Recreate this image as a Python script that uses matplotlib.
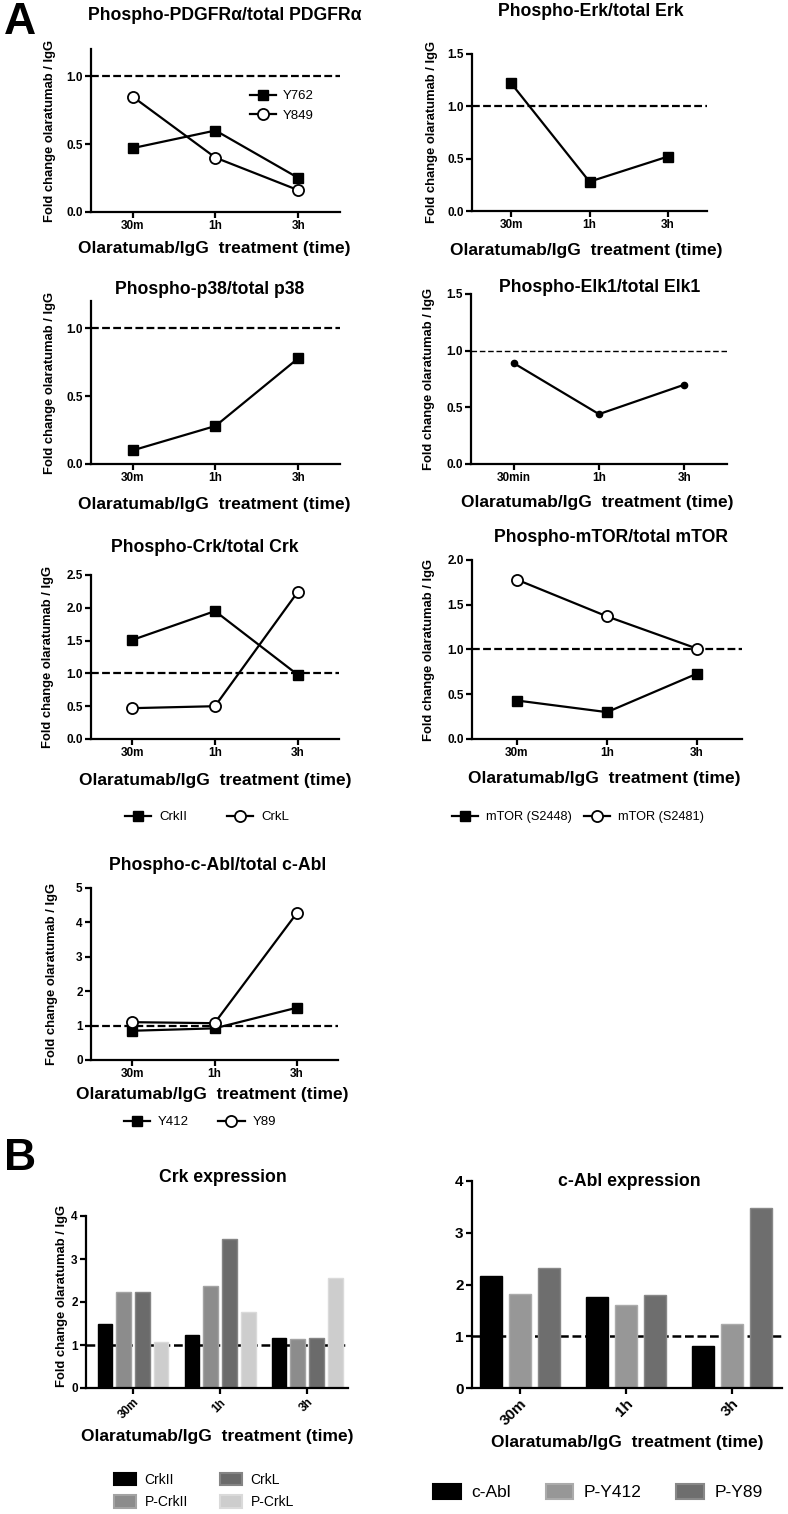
import matplotlib
matplotlib.use('Agg')
import matplotlib.pyplot as plt
from matplotlib.lines import Line2D
from matplotlib.patches import Patch
import numpy as np

plt.rcParams['font.family'] = ['Liberation Sans', 'DejaVu Sans']

# ---- data ----
times = ['30m', '1h', '3h']
times_elk = ['30min', '1h', '3h']

pdgfr_y762 = [0.47, 0.60, 0.25]
pdgfr_y849 = [0.85, 0.40, 0.16]
erk = [1.22, 0.28, 0.52]
p38 = [0.10, 0.28, 0.78]
elk1 = [0.89, 0.44, 0.70]
crk_crkii = [1.51, 1.95, 0.98]
crk_crkl = [0.47, 0.50, 2.24]
mtor_s2448 = [0.43, 0.30, 0.73]
mtor_s2481 = [1.78, 1.37, 1.01]
abl_y412 = [0.85, 0.92, 1.52]
abl_y89 = [1.10, 1.07, 4.27]

crk_expr_names = ['CrkII', 'P-CrkII', 'CrkL', 'P-CrkL']
crk_expr = [[1.49, 1.23, 1.17],
            [2.24, 2.37, 1.14],
            [2.23, 3.47, 1.16],
            [1.07, 1.76, 2.55]]
crk_colors = ['#000000', '#8c8c8c', '#6b6b6b', '#cdcdcd']
crk_edges = ['#000000', '#a3a3a3', '#858585', '#dadada']

abl_expr_names = ['c-Abl', 'P-Y412', 'P-Y89']
abl_expr = [[2.16, 1.75, 0.81],
            [1.82, 1.61, 1.24],
            [2.32, 1.80, 3.47]]
abl_colors = ['#000000', '#979797', '#6e6e6e']
abl_edges = ['#000000', '#ababab', '#888888']

W, H = 788, 1514
fig = plt.figure(figsize=(W / 100, H / 100), dpi=100)

XLAB = 'Olaratumab/IgG  treatment (time)'
YLAB = 'Fold change olaratumab / IgG'


def axpx(l, t, r, b):
    return fig.add_axes([l / W, 1 - b / H, (r - l) / W, (b - t) / H])


def ftext(x, y, s, **kw):
    kw.setdefault('ha', 'center')
    kw.setdefault('va', 'center')
    return fig.text(x / W, 1 - y / H, s, **kw)


def style(ax, ymax, yticks, yfmt, labels, xl=(-0.5, 2.5), tsize=8.5):
    for s in ['top', 'right']:
        ax.spines[s].set_visible(False)
    for s in ['left', 'bottom']:
        ax.spines[s].set_linewidth(1.6)
    ax.set_ylim(0, ymax)
    ax.set_xlim(*xl)
    ax.set_yticks(yticks)
    ax.set_yticklabels([yfmt.format(v) for v in yticks])
    ax.set_xticks(range(len(labels)))
    ax.set_xticklabels(labels)
    ax.tick_params(width=1.6, length=4, labelsize=tsize, pad=2)
    for lab in ax.get_xticklabels() + ax.get_yticklabels():
        lab.set_fontweight('bold')


def ref_line(ax, lw=1.6, dash=(3.5, 1.5)):
    ax.axhline(1.0, color='black', lw=lw, ls=(0, dash), zorder=1)


def line_panel(ax, series, markers):
    for vals, m in zip(series, markers):
        if m == 's':
            ax.plot(range(3), vals, color='black', lw=1.6, marker='s', ms=7,
                    mfc='black', mec='black', zorder=3, clip_on=False)
        else:
            ax.plot(range(3), vals, color='black', lw=1.6, marker='o', ms=8,
                    mfc='white', mec='black', mew=1.3, zorder=3, clip_on=False)


def handles(names, markers):
    hs = []
    for n, m in zip(names, markers):
        if m == 's':
            hs.append(Line2D([], [], color='black', lw=1.6, marker='s', ms=7,
                             mfc='black', label=n))
        else:
            hs.append(Line2D([], [], color='black', lw=1.6, marker='o', ms=8,
                             mfc='white', mew=1.3, label=n))
    return hs


TFS = 12.7
LFS = 12.5
YFS = 9.4

# panel letters
ftext(20, 23, 'A', fontsize=32, fontweight='bold')
ftext(20, 1158, 'B', fontsize=32, fontweight='bold')

# ---- PDGFRa ----
ax = axpx(91, 49, 340, 212)
ref_line(ax)
line_panel(ax, [pdgfr_y762, pdgfr_y849], ['s', 'o'])
style(ax, 1.2, [0.0, 0.5, 1.0], '{:.1f}', times)
ax.legend(handles=handles(['Y762', 'Y849'], ['s', 'o']), loc='upper left',
          bbox_to_anchor=((250 - 91) / 249, (212 - 90) / 163), frameon=False,
          fontsize=9.5, handlelength=2.0, handletextpad=0.5, labelspacing=0.55,
          borderaxespad=0, borderpad=0)
ftext(225, 15, 'Phospho-PDGFR\u03b1/total PDGFR\u03b1', fontsize=TFS, fontweight='bold')
ftext(214, 249, XLAB, fontsize=LFS, fontweight='bold')
ftext(50, 131, YLAB, fontsize=YFS, fontweight='bold', rotation=90)

# ---- Erk ----
ax = axpx(472, 54, 707, 211)
ref_line(ax)
line_panel(ax, [erk], ['s'])
style(ax, 1.5, [0.0, 0.5, 1.0, 1.5], '{:.1f}', times)
ftext(591, 12, 'Phospho-Erk/total Erk', fontsize=TFS, fontweight='bold')
ftext(586, 250, XLAB, fontsize=LFS, fontweight='bold')
ftext(432, 132, YLAB, fontsize=YFS, fontweight='bold', rotation=90)

# ---- p38 ----
ax = axpx(91, 301, 340, 464)
ref_line(ax)
line_panel(ax, [p38], ['s'])
style(ax, 1.2, [0.0, 0.5, 1.0], '{:.1f}', times)
ftext(210, 290, 'Phospho-p38/total p38', fontsize=TFS, fontweight='bold')
ftext(214, 505, XLAB, fontsize=LFS, fontweight='bold')
ftext(50, 383, YLAB, fontsize=YFS, fontweight='bold', rotation=90)

# ---- Elk1 ----
ax = axpx(471, 294, 727, 464)
ref_line(ax, lw=1.0, dash=(4, 2))
ax.plot(range(3), elk1, color='black', lw=1.6, marker='o', ms=4.5,
        mfc='black', mec='black', zorder=3)
style(ax, 1.5, [0.0, 0.5, 1.0, 1.5], '{:.1f}', times_elk)
ftext(600, 287, 'Phospho-Elk1/total Elk1', fontsize=TFS, fontweight='bold')
ftext(597, 503, XLAB, fontsize=LFS, fontweight='bold')
ftext(429, 379, YLAB, fontsize=YFS, fontweight='bold', rotation=90)

# ---- Crk ----
ax = axpx(91, 575, 339, 739)
ref_line(ax)
line_panel(ax, [crk_crkii, crk_crkl], ['s', 'o'])
style(ax, 2.5, [0.0, 0.5, 1.0, 1.5, 2.0, 2.5], '{:.1f}', times)
ftext(205, 548, 'Phospho-Crk/total Crk', fontsize=TFS, fontweight='bold')
ftext(215, 780, XLAB, fontsize=LFS, fontweight='bold')
ftext(48, 657, YLAB, fontsize=YFS, fontweight='bold', rotation=90)
fig.legend(handles=handles(['CrkII', 'CrkL'], ['s', 'o']), loc='center',
           bbox_to_anchor=(207 / W, 1 - 817 / H), ncol=2, frameon=False,
           fontsize=9.5, handlelength=2.0, handletextpad=0.6, columnspacing=3.0,
           borderpad=0)

# ---- mTOR ----
ax = axpx(472, 560, 742, 739)
ref_line(ax)
line_panel(ax, [mtor_s2448, mtor_s2481], ['s', 'o'])
style(ax, 2.0, [0.0, 0.5, 1.0, 1.5, 2.0], '{:.1f}', times)
ftext(611, 537, 'Phospho-mTOR/total mTOR', fontsize=TFS, fontweight='bold')
ftext(604, 778, XLAB, fontsize=LFS, fontweight='bold')
ftext(429, 650, YLAB, fontsize=YFS, fontweight='bold', rotation=90)
fig.legend(handles=handles(['mTOR (S2448)', 'mTOR (S2481)'], ['s', 'o']), loc='center',
           bbox_to_anchor=(578 / W, 1 - 817 / H), ncol=2, frameon=False,
           fontsize=9.2, handlelength=2.0, handletextpad=0.6, columnspacing=1.0,
           borderpad=0)

# ---- c-Abl ----
ax = axpx(91, 888, 338, 1060)
ref_line(ax)
line_panel(ax, [abl_y412, abl_y89], ['s', 'o'])
style(ax, 5, [0, 1, 2, 3, 4, 5], '{:d}', times)
ftext(218, 865, 'Phospho-c-Abl/total c-Abl', fontsize=TFS, fontweight='bold')
ftext(212, 1095, XLAB, fontsize=LFS, fontweight='bold')
ftext(52, 974, YLAB, fontsize=YFS, fontweight='bold', rotation=90)
fig.legend(handles=handles(['Y412', 'Y89'], ['s', 'o']), loc='center',
           bbox_to_anchor=(200 / W, 1 - 1122 / H), ncol=2, frameon=False,
           fontsize=9.5, handlelength=2.0, handletextpad=0.6, columnspacing=2.2,
           borderpad=0)

# ---- B: Crk expression ----
ax = axpx(86, 1216, 348, 1388)
x = np.arange(3)
slot, bw = 0.215, 0.17
for i, (vals, c, e) in enumerate(zip(crk_expr, crk_colors, crk_edges)):
    ax.bar(x + (i - 1.5) * slot, vals, bw, color=c, edgecolor=e, lw=1.0,
           label=crk_expr_names[i], zorder=2)
ref_line(ax, lw=1.8)
style(ax, 4, [0, 1, 2, 3, 4], '{:d}', times, xl=(-0.54, 2.47))
for lab in ax.get_xticklabels():
    lab.set_rotation(45)
    lab.set_ha('right')
    lab.set_va('top')
    lab.set_rotation_mode('anchor')
ftext(223, 1177, 'Crk expression', fontsize=TFS, fontweight='bold')
ftext(217, 1437, XLAB, fontsize=LFS, fontweight='bold')
ftext(62, 1296, YLAB, fontsize=YFS, fontweight='bold', rotation=90)
hs = [Patch(facecolor=c, edgecolor=e, lw=1.5, label=n)
      for n, c, e in zip(crk_expr_names, crk_colors, crk_edges)]
fig.legend(handles=hs, loc='center', bbox_to_anchor=(204 / W, 1 - 1491 / H),
           ncol=2, frameon=False, fontsize=10, handlelength=1.6, handleheight=1.0,
           handletextpad=0.6, columnspacing=2.3, labelspacing=0.6, borderpad=0)

# ---- B: c-Abl expression ----
ax = axpx(472, 1181, 782, 1388)
slot, bw = 0.274, 0.21
for i, (vals, c, e) in enumerate(zip(abl_expr, abl_colors, abl_edges)):
    ax.bar(x + (i - 1) * slot, vals, bw, color=c, edgecolor=e, lw=1.0,
           label=abl_expr_names[i], zorder=2)
ref_line(ax, lw=1.8)
style(ax, 4, [0, 1, 2, 3, 4], '{:d}', times, xl=(-0.45, 2.47), tsize=11)
for lab in ax.get_xticklabels():
    lab.set_rotation(45)
    lab.set_ha('right')
    lab.set_va('top')
    lab.set_rotation_mode('anchor')
ftext(629, 1182, 'c-Abl expression', fontsize=TFS, fontweight='bold')
ftext(627, 1443, XLAB, fontsize=LFS, fontweight='bold')
hs = [Patch(facecolor=c, edgecolor=e, lw=1.5, label=n)
      for n, c, e in zip(abl_expr_names, abl_colors, abl_edges)]
fig.legend(handles=hs, loc='center', bbox_to_anchor=(598 / W, 1 - 1492 / H),
           ncol=3, frameon=False, fontsize=12.5, handlelength=1.6, handleheight=1.0,
           handletextpad=0.6, columnspacing=2.0, borderpad=0)

fig.savefig('out.png', dpi=100)
